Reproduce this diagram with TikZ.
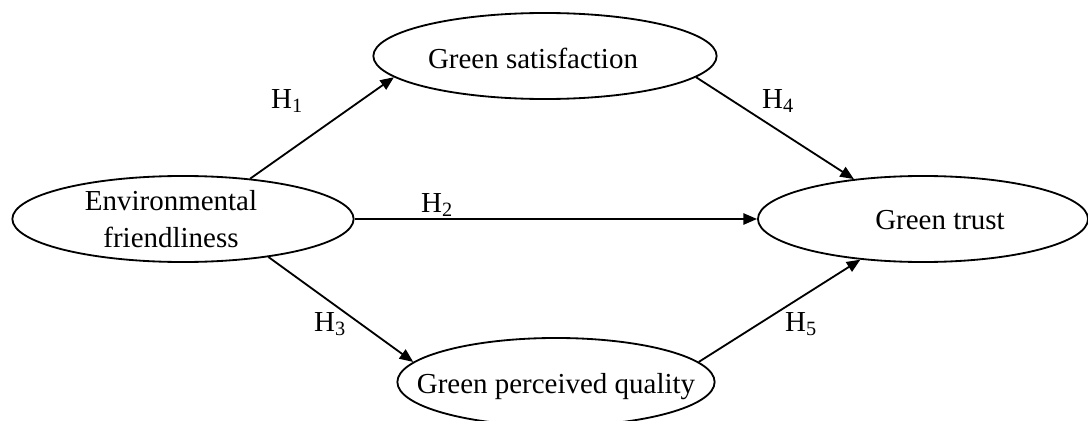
\documentclass[tikz,border=0pt]{standalone}
\usepackage{fontspec}
\setmainfont{Liberation Serif}
\usetikzlibrary{arrows.meta,shapes.geometric}
\tikzset{
	construct/.style={draw, ellipse, line width=1.3pt, inner sep=0pt, minimum height=2.15cm},
	ctext/.style={inner sep=0pt, align=center, font=\fontsize{20.6}{26.3}\selectfont},
	hyp/.style={line width=1.3pt, -{Triangle[length=3.4mm, width=2.8mm]}},
	hlabel/.style={anchor=base, inner sep=0pt, font=\fontsize{20.6}{24}\selectfont}
}

\begin{document}
\begin{tikzpicture}[x=0.025cm, y=-0.025cm]
		%%%%% START %%%%%
		\useasboundingbox (0, 0) rectangle (1088, 421);
		
		\node[construct, minimum width=8.53cm] (env) at (183, 219) {};
		\node[construct, minimum width=8.58cm] (sat) at (545, 56) {};
		\node[construct, minimum width=8.25cm] (trust) at (923, 219) {};
		\node[construct, minimum width=7.93cm, minimum height=2.2cm] (gpq) at (556, 382) {};
		
		\node[ctext] (envtext) at (171, 219) {Environmental\\friendliness};
		\node[ctext, anchor=base] (sattext) at (533, 68) {Green satisfaction};
		\node[ctext, anchor=base] (trusttext) at (940, 229) {Green trust};
		\node[ctext, anchor=base] (gpqtext) at (556, 393) {Green perceived quality};
		
		\draw[hyp] (env.31) -- (sat.188);
		\draw[hyp] (env.east) -- (trust.west);
		\draw[hyp] (env.-24) -- (gpq.172);
		\draw[hyp] (sat.-8) -- (trust.150);
		\draw[hyp] (gpq.8) -- (trust.213);
		
		\node[hlabel] (h1) at (287, 108) {H\textsubscript{1}};
		\node[hlabel] (h2) at (437, 212) {H\textsubscript{2}};
		\node[hlabel] (h3) at (330, 331) {H\textsubscript{3}};
		\node[hlabel] (h4) at (778, 108) {H\textsubscript{4}};
		\node[hlabel] (h5) at (801, 331) {H\textsubscript{5}};
		
		%%%%% END %%%%%
\end{tikzpicture}
\end{document}
